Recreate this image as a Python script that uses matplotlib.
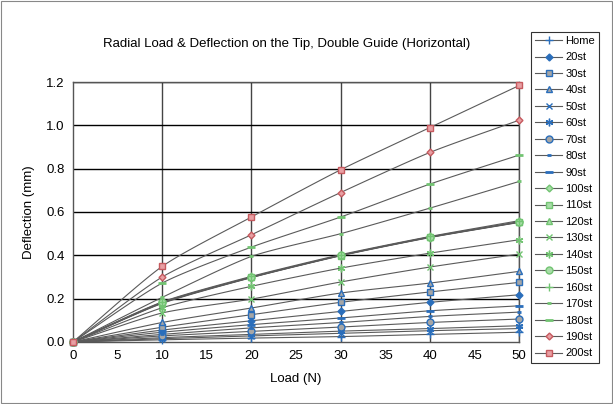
import numpy as np
import matplotlib
matplotlib.use("Agg")
import matplotlib.pyplot as plt
from matplotlib.patches import Rectangle

plt.rcParams['font.family'] = ['Liberation Sans', 'DejaVu Sans']

load = [0, 10, 20, 30, 40, 50]

home = [0, 0.010, 0.018, 0.025, 0.035, 0.045]
st20 = [0, 0.055, 0.098, 0.141, 0.183, 0.218]
st30 = [0, 0.068, 0.126, 0.183, 0.231, 0.275]
st40 = [0, 0.090, 0.157, 0.226, 0.272, 0.326]
st50 = [0, 0.015, 0.028, 0.040, 0.052, 0.062]
st60 = [0, 0.020, 0.035, 0.050, 0.062, 0.075]
st70 = [0, 0.028, 0.049, 0.069, 0.090, 0.106]
st80 = [0, 0.035, 0.065, 0.090, 0.118, 0.138]
st90 = [0, 0.045, 0.080, 0.111, 0.144, 0.167]
st100 = [0, 0.178, 0.297, 0.398, 0.482, 0.552]
st110 = [0, 0.180, 0.298, 0.399, 0.483, 0.553]
st120 = [0, 0.181, 0.299, 0.400, 0.484, 0.554]
st130 = [0, 0.134, 0.198, 0.277, 0.346, 0.406]
st140 = [0, 0.158, 0.257, 0.341, 0.410, 0.472]
st150 = [0, 0.183, 0.300, 0.400, 0.485, 0.555]
st160 = [0, 0.185, 0.303, 0.403, 0.487, 0.560]
st170 = [0, 0.206, 0.395, 0.500, 0.618, 0.741]
st180 = [0, 0.272, 0.438, 0.577, 0.729, 0.863]
st190 = [0, 0.300, 0.495, 0.690, 0.875, 1.024]
st200 = [0, 0.349, 0.577, 0.795, 0.990, 1.184]

names = ['Home', '20st', '30st', '40st', '50st', '60st', '70st', '80st', '90st', '100st',
         '110st', '120st', '130st', '140st', '150st', '160st', '170st', '180st', '190st', '200st']
series = [home, st20, st30, st40, st50, st60, st70, st80, st90, st100,
          st110, st120, st130, st140, st150, st160, st170, st180, st190, st200]

blue = '#2a6ebb'
green = '#72c472'
red = '#c65a5f'
star = (6, 2, 0)
# marker, edge colour, face colour, size, edge width
styles = [
    ('+', blue, blue, 6, 1.0), ('D', blue, blue, 3.5, 1.0), ('s', blue, '#a6a6a6', 4.5, 1.0),
    ('^', blue, '#a6a6a6', 4.5, 1.0), ('x', blue, blue, 4.5, 1.0), (star, blue, blue, 5.5, 1.0),
    ('o', blue, '#a6a6a6', 5, 1.0), ('_', blue, blue, 3.5, 2.0), ('_', blue, blue, 5.5, 2.0),
    ('D', green, '#a8dca8', 3.5, 1.0), ('s', green, '#a8dca8', 4.5, 1.0), ('^', green, '#a8dca8', 4.5, 1.0),
    ('x', green, green, 4.5, 1.0), (star, green, green, 5.5, 1.0), ('o', green, '#a8dca8', 5, 1.0),
    ('+', green, green, 6, 1.0), ('_', green, green, 3.5, 2.0), ('_', green, green, 5.5, 2.0),
    ('D', red, '#e8a0a4', 3.5, 1.0), ('s', red, '#e8a0a4', 5, 1.0),
]


def smooth(x, y, n=20):
    # catmull-rom style curve through the points, like excel smoothed lines
    x = np.asarray(x, float)
    y = np.asarray(y, float)
    px = np.concatenate([[2 * x[0] - x[1]], x, [2 * x[-1] - x[-2]]])
    py = np.concatenate([[2 * y[0] - y[1]], y, [2 * y[-1] - y[-2]]])
    xs, ys = [], []
    t = np.linspace(0, 1, n)
    for i in range(1, len(px) - 2):
        for p, out in ((px, xs), (py, ys)):
            m0 = (p[i + 1] - p[i - 1]) / 2 / 1.5
            m1 = (p[i + 2] - p[i]) / 2 / 1.5
            h00 = 2 * t**3 - 3 * t**2 + 1
            h10 = t**3 - 2 * t**2 + t
            h01 = -2 * t**3 + 3 * t**2
            h11 = t**3 - t**2
            out.append(h00 * p[i] + h10 * m0 + h01 * p[i + 1] + h11 * m1)
    return np.concatenate(xs), np.concatenate(ys)


fig = plt.figure(figsize=(6.13, 4.04), dpi=100)
ax = fig.add_axes([0.119, 0.1535, 0.728, 0.6435])

handles = []
for name, vals, (mk, ec, fc, ms, mw) in zip(names, series, styles):
    sx, sy = smooth(load, vals)
    ax.plot(sx, sy, color='#5a5a5a', lw=0.8, zorder=2)
    ax.plot(load, vals, ls='none', marker=mk, mec=ec, mfc=fc, ms=ms, mew=mw,
            zorder=3, clip_on=False)
    h, = ax.plot([], [], color='#5a5a5a', lw=0.8, marker=mk, mec=ec, mfc=fc, ms=ms, mew=mw)
    h.set_label(name)
    handles.append(h)

ax.set_xlim(0, 50)
ax.set_ylim(0, 1.2)
ax.set_xticks(np.arange(0, 51, 5))
ax.set_yticks(np.arange(0, 1.21, 0.2))
ax.set_yticklabels(['%.1f' % v for v in np.arange(0, 1.21, 0.2)])
ax.tick_params(labelsize=9.5, length=0, pad=6)
for x in range(10, 51, 10):
    ax.axvline(x, color='#444444', lw=1.0, zorder=1)
for y in np.arange(0.2, 1.21, 0.2):
    ax.axhline(y, color='black', lw=1.0, zorder=1)
for s in ax.spines.values():
    s.set_color('#555555')
    s.set_linewidth(1.0)

ax.set_xlabel('Load (N)', fontsize=9.5, labelpad=8)
ax.set_ylabel('Deflection (mm)', fontsize=9.5, labelpad=8)
fig.text(0.468, 0.89, 'Radial Load & Deflection on the Tip, Double Guide (Horizontal)',
         ha='center', va='center', fontsize=9.5)

leg = fig.legend(handles=handles, loc='upper left', bbox_to_anchor=(0.866, 0.922),
                 fontsize=8, frameon=True, fancybox=False, handlelength=2.4,
                 labelspacing=0.58, borderpad=0.4, handletextpad=0.3, borderaxespad=0)
leg.get_frame().set_edgecolor('black')
leg.get_frame().set_linewidth(0.8)

fig.patches.append(Rectangle((0.002, 0.002), 0.996, 0.996, transform=fig.transFigure,
                             fill=False, ec='#888888', lw=0.8))

fig.savefig('out.png', dpi=100)
